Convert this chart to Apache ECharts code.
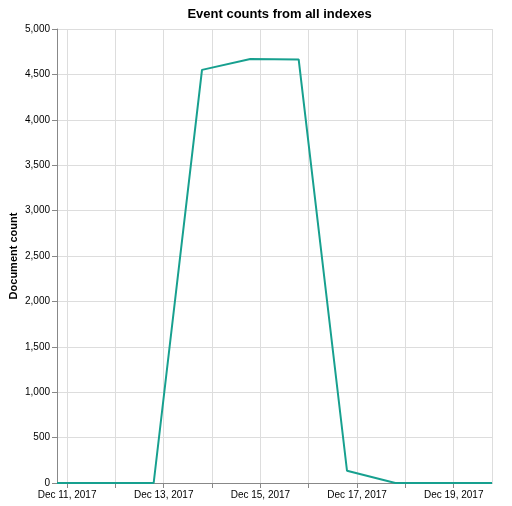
<!DOCTYPE html>
<html><head><meta charset="utf-8">
<script src="https://cdn.jsdelivr.net/npm/echarts@6/dist/echarts.min.js"></script>
<style>html,body{margin:0;padding:0;background:#fff}#c{width:512px;height:506px}</style>
</head><body><div id="c"></div>
<script>
// Dates (local time, one sample per day)
const dates = [
  [2017,11,10,19],[2017,11,11,19],[2017,11,12,19],[2017,11,13,19],[2017,11,14,19],
  [2017,11,15,19],[2017,11,16,19],[2017,11,17,19],[2017,11,18,19],[2017,11,19,19]
];
const counts = [0, 0, 0, 4550, 4670, 4665, 135, 0, 0, 0];
const yTicks = [0, 500, 1000, 1500, 2000, 2500, 3000, 3500, 4000, 4500, 5000];
const months = ['Jan','Feb','Mar','Apr','May','Jun','Jul','Aug','Sep','Oct','Nov','Dec'];

const times = dates.map(d => new Date(d[0], d[1], d[2], d[3]).getTime());
const seriesData = times.map((t, i) => [t, counts[i]]);
const DAY = 86400000;
const font = 'Liberation Sans, Arial, sans-serif';

const chart = echarts.init(document.getElementById('c'), null, {renderer: 'canvas'});
chart.setOption({
  animation: false,
  title: {
    text: 'Event counts from all indexes',
    left: 274.5, textAlign: 'center', top: 3,
    textStyle: {fontFamily: font, fontSize: 13, fontWeight: 'bold', color: '#000'}
  },
  grid: {left: 57, right: 20, top: 29, bottom: 23, containLabel: false, outerBoundsMode: 'none'},
  xAxis: {
    type: 'time',
    min: times[0], max: times[times.length - 1],
    minInterval: DAY, maxInterval: DAY,
    axisLine: {show: true, lineStyle: {color: '#888', width: 1}},
    axisTick: {show: true, length: 5, lineStyle: {color: '#888'}},
    splitLine: {show: true, lineStyle: {color: '#ddd', width: 1}},
    axisLabel: {
      show: true, color: '#000', fontFamily: font, fontSize: 10, margin: 7,
      showMinLabel: false, showMaxLabel: false, hideOverlap: false,
      formatter: function (v) {
        const d = new Date(v);
        if (d.getHours() !== 0 || d.getDate() % 2 !== 1) return '';
        return months[d.getMonth()] + ' ' + d.getDate() + ', ' + d.getFullYear();
      }
    }
  },
  yAxis: {
    type: 'value',
    min: yTicks[0], max: yTicks[yTicks.length - 1], interval: yTicks[1] - yTicks[0],
    name: 'Document count', nameLocation: 'middle', nameGap: 38, nameRotate: 90,
    nameMoveOverlap: false,
    nameTextStyle: {fontFamily: font, fontSize: 11, fontWeight: 'bold', color: '#000'},
    axisLine: {show: true, lineStyle: {color: '#888', width: 1}},
    axisTick: {show: true, length: 5, lineStyle: {color: '#888'}},
    splitLine: {show: true, lineStyle: {color: '#ddd', width: 1}},
    axisLabel: {
      color: '#000', fontFamily: font, fontSize: 10, margin: 7,
      formatter: v => v.toLocaleString('en-US')
    }
  },
  series: [{
    type: 'line',
    data: seriesData,
    showSymbol: false,
    lineStyle: {color: '#17a08f', width: 2},
    itemStyle: {color: '#17a08f'}
  }]
});
</script></body></html>
